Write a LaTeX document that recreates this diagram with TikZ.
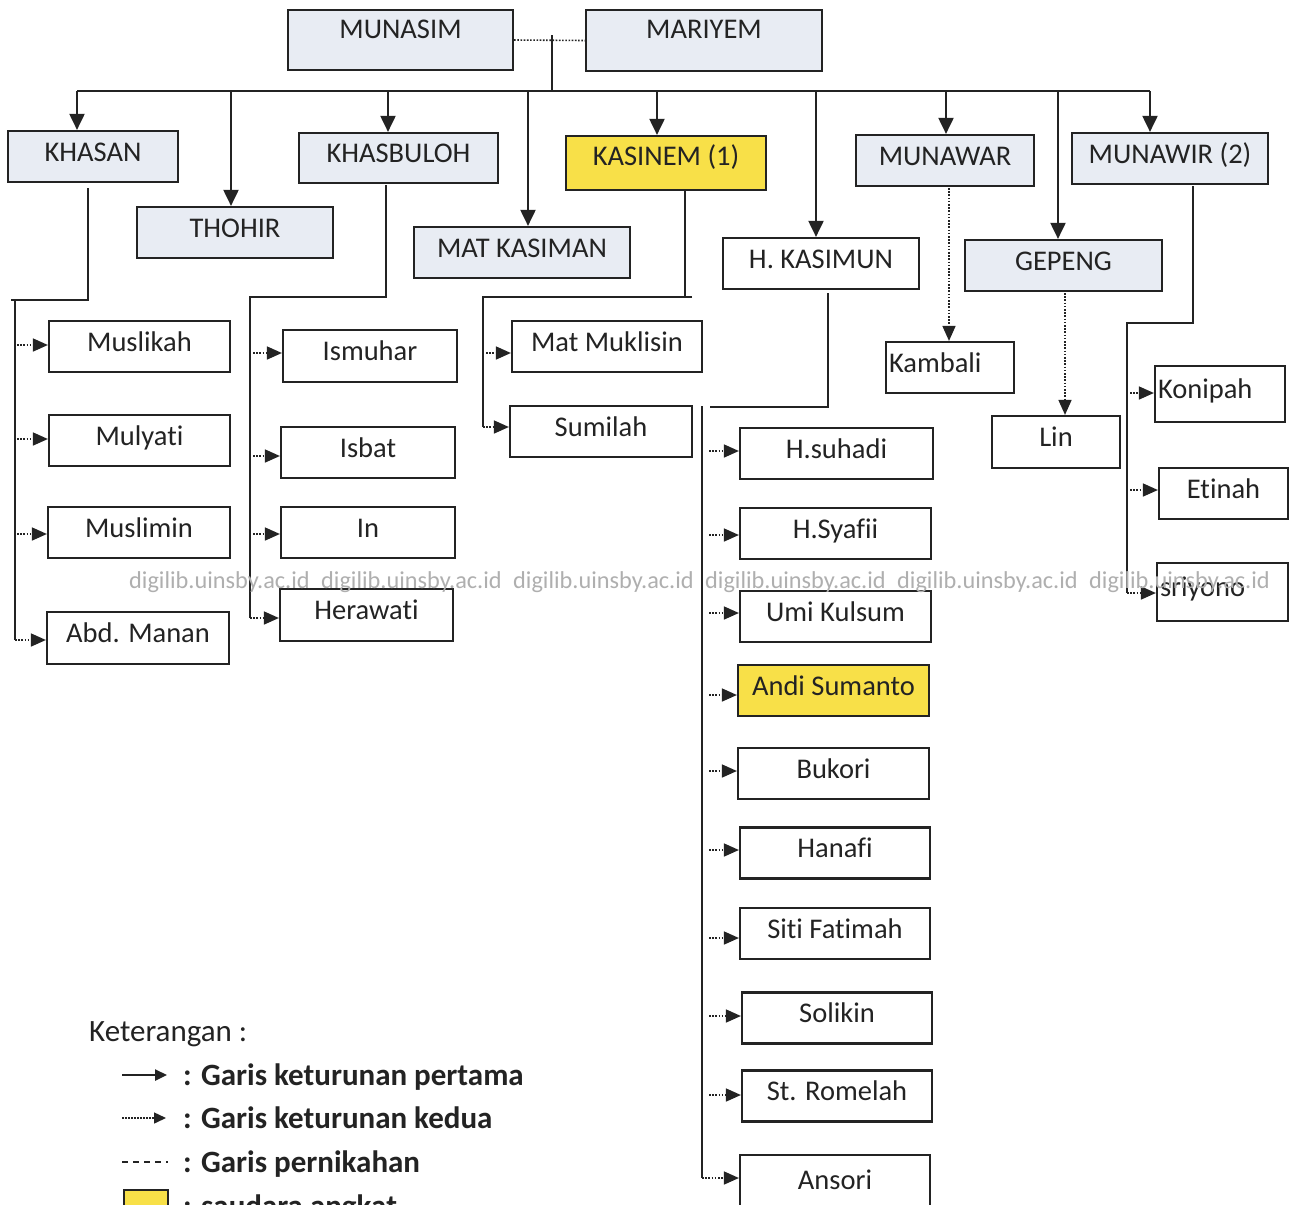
\documentclass[tikz,border=0pt]{standalone}
\usepackage{fontspec}
\setmainfont{Carlito}[Ligatures={NoCommon}]
\usetikzlibrary{arrows.meta}
\newcommand{\boxfont}{\fontsize{28.5}{31}\selectfont}
\newcommand{\legfont}{\fontsize{31}{34}\selectfont}
\newcommand{\wmfont}{\fontsize{24.3}{27}\selectfont}
\definecolor{boxgray}{RGB}{232,236,243}
\definecolor{kuning}{RGB}{248,224,72}
\definecolor{ink}{RGB}{35,35,35}
\definecolor{wmgray}{RGB}{175,175,175}
\begin{document}
\begin{tikzpicture}[x=1pt,y=-1pt,
  pbox/.style={draw=ink, line width=2.2pt, rectangle, inner sep=0pt, font=\boxfont, text=ink, text height=20pt, text depth=11pt},
  gbox/.style={pbox, fill=boxgray},
  ybox/.style={pbox, fill=kuning},
  wbox/.style={pbox, fill=white},
  topbox/.style={gbox, text depth=24pt},
  conn/.style={draw=ink, line width=2pt},
  arr/.style={conn, -{Triangle[length=16pt,width=15pt]}},
  darr/.style={draw=ink, line width=1.6pt, dash pattern=on 1.6pt off 1.6pt, -{Triangle[length=15pt,width=13pt]}},
  marry/.style={draw=ink, line width=1.6pt, dash pattern=on 1.6pt off 1.6pt},
  legtext/.style={anchor=base west, font=\legfont\bfseries, text=ink, inner sep=0pt},
  wm/.style={anchor=base west, font=\wmfont, text=wmgray, inner sep=0pt}
]
\useasboundingbox (0,0) rectangle (1291,1205);
\fill[white] (0,0) rectangle (1291,1205);
\clip (0,0) rectangle (1291,1205);

% first generation
\node[topbox, minimum width=225pt, minimum height=60pt] (munasim) at (400.5,40) {MUNASIM};
\node[topbox, minimum width=236pt, minimum height=61pt] (mariyem) at (704,40.5) {MARIYEM};
\node[gbox, minimum width=170pt, minimum height=51pt] (khasan) at (93,156.5) {KHASAN};
\node[gbox, minimum width=196pt, minimum height=51pt] (thohir) at (235,232.5) {THOHIR};
\node[gbox, minimum width=199pt, minimum height=50pt] (khasbuloh) at (398.5,158) {KHASBULOH};
\node[gbox, minimum width=216pt, minimum height=51pt] (matkasiman) at (522,252.5) {MAT KASIMAN};
\node[ybox, minimum width=200pt, minimum height=54pt, text depth=15pt] (kasinem) at (666,163) {KASINEM (1)};
\node[wbox, minimum width=196pt, minimum height=51pt] (kasimun) at (821,263.5) {H. KASIMUN};
\node[gbox, minimum width=178pt, minimum height=51pt] (munawar) at (945,160.5) {MUNAWAR};
\node[gbox, minimum width=197pt, minimum height=51pt] (gepeng) at (1063.5,265.5) {GEPENG};
\node[gbox, minimum width=196pt, minimum height=51pt] (munawir) at (1170,158.5) {MUNAWIR (2)};

% second generation
\node[wbox, minimum width=181pt, minimum height=51pt] (muslikah) at (139.5,346.5) {Muslikah};
\node[wbox, minimum width=181pt, minimum height=51pt] (mulyati) at (139.5,440.5) {Mulyati};
\node[wbox, minimum width=182pt, minimum height=51pt] (muslimin) at (139,532.5) {Muslimin};
\node[wbox, minimum width=182pt, minimum height=52pt] (abdmanan) at (138,638) {Abd. Manan};
\node[wbox, minimum width=174pt, minimum height=52pt] (ismuhar) at (370,356) {Ismuhar};
\node[wbox, minimum width=174pt, minimum height=51pt] (isbat) at (368,452.5) {Isbat};
\node[wbox, minimum width=174pt, minimum height=51pt] (in) at (368,532.5) {In};
\node[wbox, minimum width=173pt, minimum height=52pt] (herawati) at (366.5,615) {Herawati};
\node[wbox, minimum width=190pt, minimum height=51pt] (matmuklisin) at (607,346.5) {Mat Muklisin};
\node[wbox, minimum width=182pt, minimum height=51pt] (sumilah) at (601,431.5) {Sumilah};
\node[wbox, minimum width=128pt, minimum height=51pt, text width=122pt, align=left] (kambali) at (950,367.5) {Kambali};
\node[wbox, minimum width=128pt, minimum height=52pt] (lin) at (1056,442) {Lin};
\node[wbox, minimum width=130pt, minimum height=56pt, text width=124pt, align=left] (konipah) at (1220,394) {Konipah};
\node[wbox, minimum width=129pt, minimum height=51pt] (etinah) at (1223.5,493.5) {Etinah};
\node[wbox, minimum width=131pt, minimum height=58pt, text width=125pt, align=left] (sriyono) at (1222.5,592) {sriyono};
\node[wbox, minimum width=193pt, minimum height=51pt] (suhadi) at (836.5,453.5) {H.suhadi};
\node[wbox, minimum width=191pt, minimum height=51pt] (syafii) at (835.5,533.5) {H.Syafii};
\node[wbox, minimum width=191pt, minimum height=51pt] (umikulsum) at (835.5,616.5) {Umi Kulsum};
\node[ybox, minimum width=191pt, minimum height=51pt] (andi) at (833.5,690.5) {Andi Sumanto};
\node[wbox, minimum width=191pt, minimum height=51pt] (bukori) at (833.5,773.5) {Bukori};
\node[wbox, minimum width=190pt, minimum height=51pt] (hanafi) at (835,853) {Hanafi};
\node[wbox, minimum width=190pt, minimum height=51pt] (sitifatimah) at (835,933.5) {Siti Fatimah};
\node[wbox, minimum width=190pt, minimum height=51pt] (solikin) at (837,1018) {Solikin};
\node[wbox, minimum width=190pt, minimum height=51pt] (romelah) at (837,1096) {St. Romelah};
\node[wbox, minimum width=190pt, minimum height=60pt] (ansori) at (835,1185) {Ansori};

% marriage and first-generation connectors
\draw[marry] (munasim.east) -- (mariyem.west);
\coordinate (mjt) at (552,35);
\coordinate (mjb) at (552,91);
\draw[conn] (mjt) -- (mjb);
\coordinate (hl) at (77,91);
\coordinate (hr) at (1150,91);
\draw[conn] (hl) -- (hr);
\coordinate (c2) at (231,91);
\coordinate (c3) at (388,91);
\coordinate (c4) at (528,91);
\coordinate (c5) at (657,91);
\coordinate (c6) at (816,91);
\coordinate (c7) at (946,91);
\coordinate (c8) at (1058,91);
\draw[arr] (hl) -- (hl |- khasan.north);
\draw[arr] (c2) -- (c2 |- thohir.north);
\draw[arr] (c3) -- (c3 |- khasbuloh.north);
\draw[arr] (c4) -- (c4 |- matkasiman.north);
\draw[arr] (c5) -- (c5 |- kasinem.north);
\draw[arr] (c6) -- (c6 |- kasimun.north);
\draw[arr] (c7) -- (c7 |- munawar.north);
\draw[arr] (c8) -- (c8 |- gepeng.north);
\draw[arr] (hr) -- (hr |- munawir.north);

% KHASAN branch
\coordinate (k0) at (88,188);
\coordinate (k1) at (88,300);
\coordinate (k2) at (11,300);
\draw[conn] (k0) -- (k1) -- (k2);
\coordinate (kv) at (15,300);
\coordinate (kv4) at (15,640);
\draw[conn] (kv) -- (kv4);
\coordinate (ka1) at (17,345);
\coordinate (ka2) at (17,439);
\coordinate (ka3) at (17,534);
\draw[darr] (ka1) -- (ka1 -| muslikah.west);
\draw[darr] (ka2) -- (ka2 -| mulyati.west);
\draw[darr] (ka3) -- (ka3 -| muslimin.west);
\draw[darr] (kv4) -- (kv4 -| abdmanan.west);

% KHASBULOH branch
\coordinate (b0) at (386,185);
\coordinate (b1) at (386,297);
\coordinate (b2) at (250,297);
\coordinate (b3) at (250,618);
\draw[conn] (b0) -- (b1) -- (b2) -- (b3);
\coordinate (ba1) at (253,353);
\coordinate (ba2) at (253,456);
\coordinate (ba3) at (253,534);
\draw[darr] (ba1) -- (ba1 -| ismuhar.west);
\draw[darr] (ba2) -- (ba2 -| isbat.west);
\draw[darr] (ba3) -- (ba3 -| in.west);
\draw[darr] (b3) -- (b3 -| herawati.west);

% KASINEM branch
\coordinate (s0) at (685,190);
\coordinate (s1) at (685,297);
\coordinate (s1r) at (692,297);
\coordinate (s2) at (483,297);
\coordinate (s3) at (483,427);
\draw[conn] (s0) -- (s1);
\draw[conn] (s1r) -- (s2) -- (s3);
\coordinate (sa1) at (486,353);
\draw[darr] (sa1) -- (sa1 -| matmuklisin.west);
\draw[darr] (s3) -- (s3 -| sumilah.west);

% H. KASIMUN branch
\coordinate (h0) at (828,293);
\coordinate (h1) at (828,407);
\coordinate (h2) at (710,407);
\draw[conn] (h0) -- (h1) -- (h2);
\coordinate (hv) at (702,406);
\coordinate (hv10) at (702,1178);
\draw[conn] (hv) -- (hv10);
\coordinate (ha1) at (709,451);
\coordinate (ha2) at (709,535);
\coordinate (ha3) at (709,613);
\coordinate (ha4) at (709,695);
\coordinate (ha5) at (709,771);
\coordinate (ha6) at (709,850);
\coordinate (ha7) at (709,938);
\coordinate (ha8) at (709,1016);
\coordinate (ha9) at (709,1095);
\draw[darr] (ha1) -- (ha1 -| suhadi.west);
\draw[darr] (ha2) -- (ha2 -| syafii.west);
\draw[darr] (ha3) -- (ha3 -| umikulsum.west);
\draw[darr] (ha4) -- (ha4 -| andi.west);
\draw[darr] (ha5) -- (ha5 -| bukori.west);
\draw[darr] (ha6) -- (ha6 -| hanafi.west);
\draw[darr] (ha7) -- (ha7 -| sitifatimah.west);
\draw[darr] (ha8) -- (ha8 -| solikin.west);
\draw[darr] (ha9) -- (ha9 -| romelah.west);
\draw[darr] (hv10) -- (hv10 -| ansori.west);

% MUNAWAR and GEPENG
\coordinate (mw) at (949,188);
\draw[darr] (mw) -- (mw |- kambali.north);
\coordinate (gp) at (1065,293);
\draw[darr] (gp) -- (gp |- lin.north);

% MUNAWIR branch
\coordinate (w0) at (1193,186);
\coordinate (w1) at (1193,323);
\coordinate (w2) at (1126,323);
\draw[conn] (w0) -- (w1) -- (w2);
\coordinate (wv) at (1127,323);
\coordinate (wv3) at (1127,593);
\draw[conn] (wv) -- (wv3);
\coordinate (wa1) at (1130,393);
\coordinate (wa2) at (1130,490);
\draw[darr] (wa1) -- (wa1 -| konipah.west);
\draw[darr] (wa2) -- (wa2 -| etinah.west);
\draw[darr] (wv3) -- (wv3 -| sriyono.west);

% legend
\node[anchor=base west, font=\legfont, text=ink, inner sep=0pt] (ket) at (89,1041) {Keterangan :};
\coordinate (l1a) at (122,1075);
\coordinate (l1b) at (167,1075);
\draw[draw=ink, line width=2.4pt, -{Triangle[length=12pt,width=11pt]}] (l1a) -- (l1b);
\node[legtext] (lt1) at (183,1085) {: Garis keturunan pertama};
\coordinate (l2a) at (122,1118);
\coordinate (l2b) at (166,1118);
\draw[draw=ink, line width=1.5pt, dash pattern=on 1.5pt off 1.5pt, -{Triangle[length=12pt,width=11pt]}] (l2a) -- (l2b);
\node[legtext] (lt2) at (183,1128) {: Garis keturunan kedua};
\coordinate (l3a) at (122,1162);
\coordinate (l3b) at (168,1162);
\draw[draw=ink, line width=1.8pt, dash pattern=on 6pt off 5pt] (l3a) -- (l3b);
\node[legtext] (lt3) at (183,1172) {: Garis pernikahan};
\node[draw=ink, line width=2pt, fill=kuning, minimum width=44pt, minimum height=26pt, inner sep=0pt] (lbox) at (146,1203) {};
\node[legtext] (lt4) at (183,1216) {: saudara angkat};

% watermark
\node[wm] (wm1) at (129,588) {digilib.uinsby.ac.id};
\node[wm] (wm2) at (321,588) {digilib.uinsby.ac.id};
\node[wm] (wm3) at (513,588) {digilib.uinsby.ac.id};
\node[wm] (wm4) at (705,588) {digilib.uinsby.ac.id};
\node[wm] (wm5) at (897,588) {digilib.uinsby.ac.id};
\node[wm] (wm6) at (1089,588) {digilib.uinsby.ac.id};
\end{tikzpicture}
\end{document}
